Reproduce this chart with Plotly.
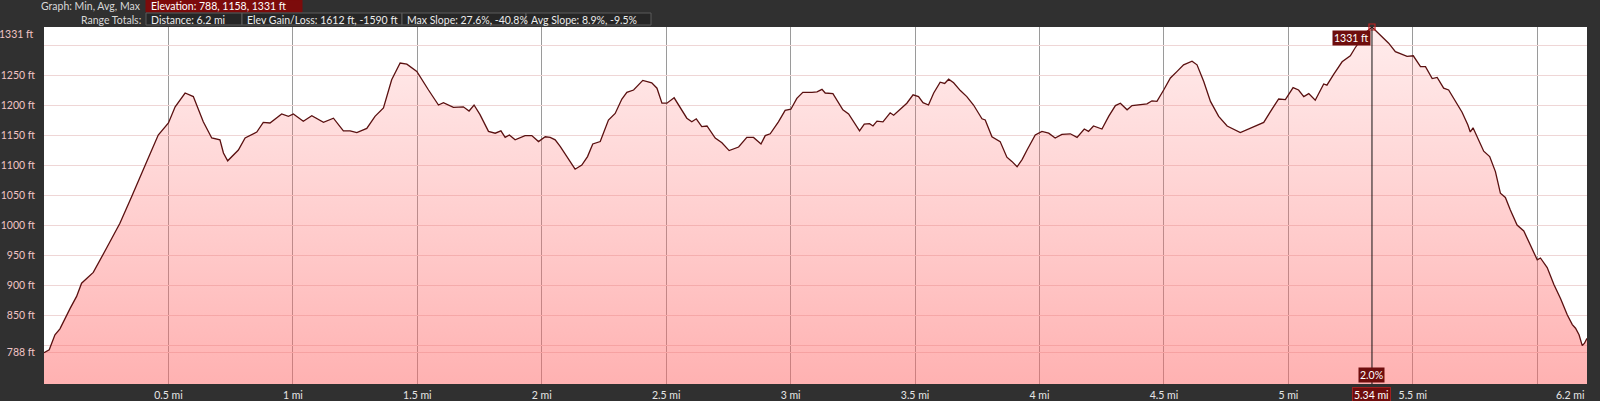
import plotly.graph_objects as go

# ---------------- data ----------------
dist_mi = [0.000, 0.021, 0.044, 0.064, 0.105, 0.131, 0.151, 0.198, 0.252, 0.305,
           0.352, 0.386, 0.413, 0.459, 0.500, 0.527, 0.567, 0.600, 0.640, 0.674,
           0.707, 0.721, 0.738, 0.781, 0.808, 0.855, 0.881, 0.908, 0.955, 0.982,
           1.002, 1.042, 1.076, 1.123, 1.163, 1.203, 1.230, 1.257, 1.297, 1.330,
           1.364, 1.397, 1.431, 1.458, 1.498, 1.545, 1.585, 1.605, 1.645, 1.685,
           1.708, 1.728, 1.752, 1.786, 1.813, 1.836, 1.853, 1.870, 1.893, 1.933,
           1.960, 1.987, 2.014, 2.034, 2.054, 2.074, 2.107, 2.134, 2.161, 2.184,
           2.205, 2.235, 2.268, 2.295, 2.322, 2.342, 2.369, 2.406, 2.442, 2.463,
           2.483, 2.503, 2.532, 2.556, 2.583, 2.603, 2.621, 2.643, 2.664, 2.697,
           2.724, 2.753, 2.791, 2.824, 2.851, 2.881, 2.898, 2.918, 2.951, 2.978,
           3.001, 3.025, 3.049, 3.086, 3.106, 3.126, 3.139, 3.170, 3.193, 3.210,
           3.233, 3.253, 3.277, 3.296, 3.317, 3.331, 3.347, 3.371, 3.400, 3.414,
           3.441, 3.467, 3.492, 3.514, 3.532, 3.554, 3.575, 3.601, 3.619, 3.635,
           3.655, 3.682, 3.708, 3.735, 3.769, 3.782, 3.809, 3.842, 3.869, 3.889,
           3.910, 3.930, 3.950, 3.983, 4.010, 4.037, 4.063, 4.090, 4.124, 4.151,
           4.180, 4.197, 4.217, 4.251, 4.278, 4.305, 4.325, 4.352, 4.372, 4.405,
           4.432, 4.452, 4.472, 4.499, 4.526, 4.553, 4.579, 4.613, 4.633, 4.660,
           4.687, 4.720, 4.754, 4.807, 4.861, 4.901, 4.928, 4.961, 4.988, 5.019,
           5.041, 5.062, 5.082, 5.108, 5.142, 5.155, 5.182, 5.216, 5.249, 5.268,
           5.295, 5.315, 5.336, 5.370, 5.403, 5.430, 5.464, 5.477, 5.502, 5.531,
           5.551, 5.578, 5.598, 5.624, 5.644, 5.671, 5.698, 5.721, 5.731, 5.742,
           5.765, 5.785, 5.809, 5.832, 5.852, 5.872, 5.892, 5.919, 5.946, 5.973,
           6.000, 6.013, 6.040, 6.067, 6.094, 6.121, 6.141, 6.154, 6.168, 6.181,
           6.190, 6.200]

elev_ft = [788, 793, 818, 828, 862, 882, 904, 922, 963, 1004,
           1048, 1082, 1107, 1151, 1171, 1198, 1221, 1215, 1173, 1146,
           1143, 1121, 1108, 1126, 1146, 1156, 1172, 1171, 1186, 1182,
           1186, 1174, 1183, 1172, 1179, 1158, 1158, 1155, 1162, 1182,
           1196, 1243, 1271, 1269, 1257, 1226, 1201, 1205, 1197, 1198,
           1191, 1201, 1185, 1157, 1154, 1158, 1147, 1151, 1143, 1150,
           1150, 1140, 1148, 1147, 1143, 1132, 1110, 1094, 1101, 1115,
           1136, 1140, 1176, 1187, 1211, 1222, 1226, 1242, 1238, 1229,
           1204, 1204, 1213, 1198, 1179, 1173, 1178, 1165, 1166, 1146,
           1138, 1125, 1131, 1147, 1147, 1136, 1150, 1153, 1173, 1192,
           1194, 1212, 1222, 1222, 1223, 1227, 1221, 1220, 1204, 1193,
           1186, 1173, 1158, 1169, 1170, 1166, 1174, 1173, 1188, 1184,
           1194, 1204, 1218, 1215, 1205, 1201, 1221, 1239, 1237, 1244,
           1238, 1225, 1215, 1201, 1178, 1176, 1148, 1140, 1114, 1107,
           1098, 1110, 1126, 1151, 1157, 1154, 1146, 1152, 1153, 1147,
           1161, 1157, 1166, 1161, 1182, 1200, 1204, 1193, 1200, 1201,
           1203, 1208, 1207, 1226, 1246, 1257, 1268, 1274, 1268, 1240,
           1207, 1182, 1166, 1155, 1164, 1172, 1190, 1211, 1210, 1230,
           1226, 1215, 1220, 1209, 1236, 1234, 1252, 1273, 1283, 1296,
           1312, 1323, 1331, 1318, 1304, 1290, 1285, 1282, 1283, 1265,
           1265, 1245, 1247, 1229, 1226, 1207, 1189, 1168, 1156, 1163,
           1143, 1124, 1115, 1090, 1054, 1047, 1026, 1001, 991, 968,
           943, 946, 930, 902, 878, 851, 835, 829, 818, 800,
           804, 812]

y_tick_vals = [788, 800, 850, 900, 950, 1000, 1050, 1100, 1150, 1200, 1250, 1300]
y_tick_text = ["788 ft", "", "850 ft", "900 ft", "950 ft", "1000 ft", "1050 ft",
               "1100 ft", "1150 ft", "1200 ft", "1250 ft", ""]
x_tick_vals = [0.5, 1, 1.5, 2, 2.5, 3, 3.5, 4, 4.5, 5, 5.5, 6]
x_tick_text = ["0.5 mi", "1 mi", "1.5 mi", "2 mi", "2.5 mi", "3 mi", "3.5 mi",
               "4 mi", "4.5 mi", "5 mi", "5.5 mi", ""]
y_min_axis, y_max_axis = 736, 1331
x_max_axis = 6.2

peak_mi = 5.336
peak_ft = 1331
peak_slope = "2.0%"
peak_dist_label = "5.34 mi"

header_row1_label = "Graph: Min, Avg, Max"
header_row1_box = "Elevation: 788, 1158, 1331 ft"
header_row2_label = "Range Totals:"
header_row2_boxes = ["Distance: 6.2 mi", "Elev Gain/Loss: 1612 ft, -1590 ft",
                     "Max Slope: 27.6%, -40.8%", "Avg Slope: 8.9%, -9.5%"]

# ---------------- layout geometry ----------------
W, H = 1600, 401
ML, MR, MT, MB = 44, 13, 27, 17
PW, PH = W - ML - MR, H - MT - MB
FONT = "Lato, 'DejaVu Sans', sans-serif"
BG = "#303030"
DARKRED = "#6e0d0d"


def px_x(px):
    return (px - ML) / PW


def px_y(py):
    return (H - MB - py) / PH


fig = go.Figure()

fig.add_trace(go.Scatter(
    x=dist_mi, y=elev_ft, mode="lines",
    line=dict(color="#5a1010", width=1.3),
    fill="tozeroy",
    fillgradient=dict(type="vertical", start=y_min_axis, stop=y_max_axis,
                      colorscale=[[0, "rgba(255,100,100,0.50)"],
                                  [1, "rgba(255,120,120,0.14)"]]),
    hoverinfo="skip", showlegend=False,
))

fig.add_trace(go.Scatter(
    x=[peak_mi], y=[peak_ft], mode="markers",
    marker=dict(symbol="square-open", size=6, color="#c02020", line=dict(width=1.2)),
    cliponaxis=False, hoverinfo="skip", showlegend=False,
))

shapes = []
annotations = []

shapes.append(dict(type="line", xref="x", yref="paper", x0=peak_mi, x1=peak_mi,
                   y0=0, y1=1, line=dict(color="#111111", width=1)))


def box(x0, x1, y0, y1, fill, border=None):
    shapes.append(dict(type="rect", xref="paper", yref="paper",
                       x0=px_x(x0), x1=px_x(x1), y0=px_y(y1), y1=px_y(y0),
                       fillcolor=fill,
                       line=dict(color=border or fill, width=1), layer="above"))


def text(s, px, py, anchor="left", color="#e6e6e6", size=10.5):
    annotations.append(dict(text=s, xref="paper", yref="paper", x=px_x(px), y=px_y(py),
                            xanchor=anchor, yanchor="middle", showarrow=False,
                            font=dict(family=FONT, size=size, color=color)))


box(146, 302, 0, 12, "#7c0b0b")
text(header_row1_label, 143, 6.5, anchor="right", color="#d8d8d8")
text(header_row1_box, 149, 6.5, color="#ffffff")

text(header_row2_label, 143, 19.5, anchor="right", color="#d8d8d8")
row2_edges = [146, 242, 402, 526, 651]
for i, s in enumerate(header_row2_boxes):
    box(row2_edges[i], row2_edges[i + 1], 13, 25, "#262626", "#5a5a5a")
    text(s, row2_edges[i] + 3, 19.5, color="#ececec")

annotations.append(dict(text=f"{y_max_axis} ft", xref="paper", yref="paper",
                        x=px_x(36), y=1, xanchor="right", yanchor="top", yshift=1,
                        showarrow=False, font=dict(family=FONT, size=10.5, color="#f0c4c4")))
annotations.append(dict(text=f"{x_max_axis} mi", xref="paper", yref="paper",
                        x=1, y=0, xanchor="right", yanchor="top", yshift=-3,
                        showarrow=False, font=dict(family=FONT, size=10.5, color="#e6e6e6")))

annotations.append(dict(text=f"{peak_ft} ft", x=peak_mi, y=peak_ft, xref="x", yref="y",
                        xanchor="right", yanchor="top", yshift=-3, xshift=-1,
                        showarrow=False, bgcolor=DARKRED, borderpad=1,
                        font=dict(family=FONT, size=10.5, color="#ffffff")))
annotations.append(dict(text=peak_slope, x=peak_mi, y=0, xref="x", yref="paper",
                        xanchor="center", yanchor="bottom", yshift=1,
                        showarrow=False, bgcolor=DARKRED, borderpad=1,
                        font=dict(family=FONT, size=10.5, color="#ffffff")))
annotations.append(dict(text=peak_dist_label, x=peak_mi, y=0, xref="x", yref="paper",
                        xanchor="center", yanchor="top", yshift=-3,
                        showarrow=False, bgcolor=DARKRED, bordercolor="#a02020",
                        borderwidth=1, borderpad=1,
                        font=dict(family=FONT, size=10.5, color="#ffffff")))

fig.update_layout(
    width=W, height=H,
    margin=dict(l=ML, r=MR, t=MT, b=MB, pad=0, autoexpand=False),
    paper_bgcolor=BG, plot_bgcolor="#ffffff",
    shapes=shapes, annotations=annotations,
    showlegend=False,
    xaxis=dict(range=[0, x_max_axis], tickvals=x_tick_vals, ticktext=x_tick_text,
               showgrid=True, gridcolor="#9a9a9a", gridwidth=1, zeroline=False,
               showline=False, ticks="", ticklabelstandoff=3, automargin=False,
               tickfont=dict(family=FONT, size=10.5, color="#e6e6e6"), fixedrange=True),
    yaxis=dict(range=[y_min_axis, y_max_axis], tickvals=y_tick_vals, ticktext=y_tick_text,
               showgrid=True, gridcolor="#efd6d6", gridwidth=1, zeroline=False,
               showline=False, ticks="", ticklabelstandoff=8, automargin=False,
               tickfont=dict(family=FONT, size=10.5, color="#f0c4c4"), fixedrange=True),
)

fig.write_html(
    "out.html",
    config={"displayModeBar": False},
    post_script="document.body.style.margin='0';document.body.style.padding='0';"
                "document.body.style.overflow='hidden';"
                "document.body.style.background='#303030';",
)
